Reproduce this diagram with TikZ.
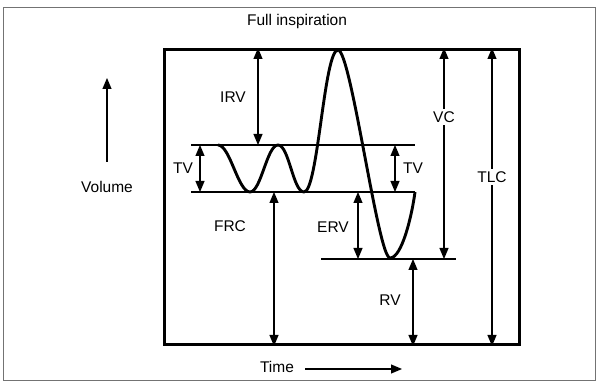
\documentclass[tikz,border=0pt]{standalone}
\usepackage{fontspec}
\setmainfont{Liberation Sans}
\usetikzlibrary{arrows.meta}
\begin{document}
\begin{tikzpicture}[x=1pt,y=-1pt,
  lbl/.style={font=\fontsize{15.5}{18}\selectfont, inner sep=1pt},
  dimarrow/.style={line width=1.2pt,{Triangle[width=9pt,length=11pt]}-{Triangle[width=9pt,length=11pt]}},
  onearrow/.style={line width=1.2pt,-{Triangle[width=9pt,length=11pt]}},
  heavy/.style={line width=2.9pt},
  ]
\useasboundingbox (0,0) rectangle (598,382);
\draw[black!55, line width=0.8pt] (3,7) rectangle (595,380);
% inner box
\node[draw, line width=3pt, minimum width=355pt, minimum height=295pt, inner sep=0pt, anchor=north west] (box) at (163,48) {};
% level lines
\coordinate (Ltop) at (191,145); \coordinate (Rtop) at (415,145);
\coordinate (Lfrc) at (191,192); \coordinate (Rfrc) at (415,192);
\coordinate (Lrv) at (321,259);  \coordinate (Rrv) at (456,259);
\draw[heavy] (Ltop) -- (Rtop);
\draw[heavy] (Lfrc) -- (Rfrc);
\draw[heavy] (Lrv) -- (Rrv);
% breathing curve
\draw[heavy, line join=round] (218,145) .. controls (230,145) and (238,192) .. (250,192)
  .. controls (261,192) and (267,145) .. (278,145)
  .. controls (289,145) and (293,192) .. (304,192)
  .. controls (318,192) and (324,50) .. (338,50)
  .. controls (351,50) and (378,258) .. (390,258)
  .. controls (402,258) and (412,215) .. (Rfrc);
% x positions of dimension arrows
\coordinate (irv) at (258,0);
\coordinate (tvl) at (200,0);
\coordinate (tvr) at (395,0);
\coordinate (frc) at (274,0);
\coordinate (erv) at (358,0);
\coordinate (rv) at (413,0);
\coordinate (vc) at (444,0);
\coordinate (tlc) at (492,0);
\draw[dimarrow] (irv |- box.north) -- (irv |- Ltop);
\draw[dimarrow] (tvl |- Ltop) -- (tvl |- Lfrc);
\draw[dimarrow] (tvr |- Ltop) -- (tvr |- Lfrc);
\draw[dimarrow] (frc |- Lfrc) -- (frc |- box.south);
\draw[dimarrow] (erv |- Lfrc) -- (erv |- Lrv);
\draw[dimarrow] (rv |- Lrv) -- (rv |- box.south);
\draw[dimarrow] (vc |- box.north) -- (vc |- Lrv);
\draw[dimarrow] (tlc |- box.north) -- (tlc |- box.south);
% labels
\node[lbl] (lirv) at (233,97) {IRV};
\node[lbl] (ltvl) at (183,168) {TV};
\node[lbl] (ltvr) at (413,168) {TV};
\node[lbl] (lfrc) at (230,226) {FRC};
\node[lbl] (lerv) at (333,227) {ERV};
\node[lbl] (lrv) at (390,300) {RV};
\node[lbl, fill=white, inner sep=3pt] (lvc) at (444,117) {VC};
\node[lbl, fill=white, inner sep=3pt] (ltlc) at (492,177) {TLC};
\node[lbl] (full) at (297,21) {Full inspiration};
% axes
\node[lbl] (vol) at (107,187) {Volume};
\coordinate (volbot) at (107,162);
\coordinate (voltop) at (107,78);
\draw[onearrow] (volbot) -- (voltop);
\node[lbl] (time) at (277,367) {Time};
\coordinate (tstart) at (305,369);
\coordinate (tend) at (402,369);
\draw[onearrow] (tstart) -- (tend);
\end{tikzpicture}
\end{document}
